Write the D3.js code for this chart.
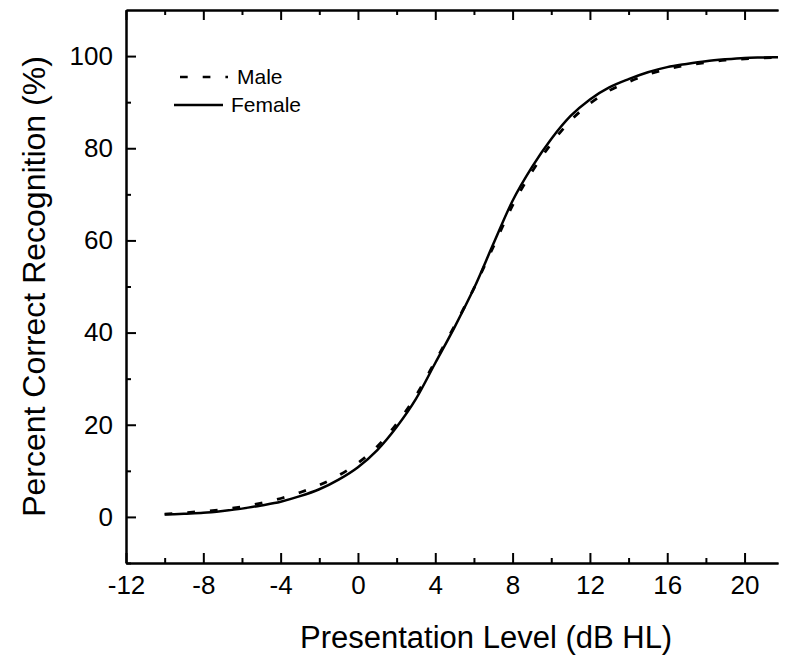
<!DOCTYPE html>
<html lang="en">
<head>
    <meta charset="UTF-8">
    <title>Percent Correct Recognition</title>
    <script src="https://d3js.org/d3.v7.min.js"></script>
    <style>
    body {margin: 0; background: #fff;}
    svg text {font-family: Arial, "Liberation Sans", sans-serif; fill: #000;}
    .axis path, .axis line {stroke: #000; stroke-width: 2px;}
    .axis text {font-size: 26px;}
    </style>
</head>
<body>
    <svg id="chart"></svg>
    <script>

        // presentation level (dB HL)
        var levels = [-10,-9,-8,-7,-6,-5,-4,-3,-2,-1,0,1,2,3,4,5,6,7,8,9,10,11,12,13,14,15,16,17,18,19,20,21,22];
        // percent correct
        var male   = [0.6,0.9,1.2,1.6,2.2,3.0,4.0,5.3,6.9,9.0,11.7,15.3,20.2,26.3,33.8,41.5,49.6,58.6,67.6,74.9,81.0,86.0,89.7,92.5,94.4,96.0,97.2,98.0,98.6,99.1,99.4,99.6,99.7];
        var female = [0.5,0.7,0.9,1.3,1.8,2.5,3.3,4.5,6.0,8.1,10.8,14.5,19.5,25.6,33.4,41.2,49.6,59.2,68.6,75.9,82.0,87.0,90.6,93.2,95.0,96.5,97.6,98.3,98.9,99.3,99.6,99.7,99.8];

        var xTicks = [-12,-8,-4,0,4,8,12,16,20];
        var xMinor = [-10,-6,-2,2,6,10,14,18];
        var yTicks = [0,20,40,60,80,100];
        var yMinor = [-10,10,30,50,70,90];

        var W = 785, H = 666;
        var mLeft = 126, mTop = 10, mRight = 778, mBottom = 563;

        var svg = d3.select("#chart").attr("width", W).attr("height", H);

        var x = d3.scaleLinear().domain([-12, 21.73]).range([mLeft, mRight]);
        var y = d3.scaleLinear().domain([-10, 110]).range([mBottom, mTop]);
        var plain = function(d) { return String(d); };

        svg.append("clipPath").attr("id", "clip")
            .append("rect")
            .attr("x", mLeft).attr("y", mTop)
            .attr("width", mRight - mLeft).attr("height", mBottom - mTop);

        // axes, ticks point inward
        svg.append("g").attr("class", "axis")
            .attr("transform", "translate(0," + mBottom + ")")
            .call(d3.axisBottom(x).tickValues(xTicks).tickFormat(plain).tickSizeInner(-10).tickSizeOuter(0).tickPadding(13));
        svg.append("g").attr("class", "axis")
            .attr("transform", "translate(0," + mBottom + ")")
            .call(d3.axisBottom(x).tickValues(xMinor).tickFormat("").tickSizeInner(-5).tickSizeOuter(0));

        svg.append("g").attr("class", "axis")
            .attr("transform", "translate(0," + mTop + ")")
            .call(d3.axisTop(x).tickValues(xTicks).tickFormat("").tickSizeInner(-10).tickSizeOuter(0));
        svg.append("g").attr("class", "axis")
            .attr("transform", "translate(0," + mTop + ")")
            .call(d3.axisTop(x).tickValues(xMinor).tickFormat("").tickSizeInner(-5).tickSizeOuter(0));

        svg.append("g").attr("class", "axis")
            .attr("transform", "translate(" + mLeft + ",0)")
            .call(d3.axisLeft(y).tickValues(yTicks).tickFormat(plain).tickSizeInner(-10).tickSizeOuter(0).tickPadding(13));
        svg.append("g").attr("class", "axis")
            .attr("transform", "translate(" + mLeft + ",0)")
            .call(d3.axisLeft(y).tickValues(yMinor).tickFormat("").tickSizeInner(-5).tickSizeOuter(0));

        svg.selectAll(".axis text").attr("font-family", null).attr("font-size", null);

        var line = d3.line()
            .x(function(d, i) { return x(levels[i]); })
            .y(function(d) { return y(d); })
            .curve(d3.curveMonotoneX);

        var plot = svg.append("g").attr("clip-path", "url(#clip)");

        plot.append("path")
            .datum(female)
            .attr("d", line)
            .attr("fill", "none")
            .attr("stroke", "#000")
            .attr("stroke-width", 2.5);

        plot.append("path")
            .datum(male)
            .attr("d", line)
            .attr("fill", "none")
            .attr("stroke", "#000")
            .attr("stroke-width", 2.8)
            .attr("stroke-dasharray", "7.7,15");

        // legend
        var legend = svg.append("g");
        legend.append("line")
            .attr("x1", 180).attr("x2", 228).attr("y1", 77).attr("y2", 77)
            .attr("stroke", "#000").attr("stroke-width", 2.5)
            .attr("stroke-dasharray", "7.7,15");
        legend.append("text")
            .attr("x", 237).attr("y", 84)
            .style("font-size", "21px")
            .text("Male");
        legend.append("line")
            .attr("x1", 174).attr("x2", 223).attr("y1", 105).attr("y2", 105)
            .attr("stroke", "#000").attr("stroke-width", 2.5);
        legend.append("text")
            .attr("x", 231).attr("y", 112)
            .style("font-size", "21px")
            .text("Female");

        // titles
        svg.append("text")
            .attr("x", 300).attr("y", 648)
            .style("font-size", "31px")
            .text("Presentation Level (dB HL)");

        svg.append("text")
            .attr("transform", "translate(45," + ((mTop + mBottom) / 2) + ") rotate(-90)")
            .attr("text-anchor", "middle")
            .style("font-size", "32px")
            .text("Percent Correct Recognition (%)");

    </script>
</body>
</html>
